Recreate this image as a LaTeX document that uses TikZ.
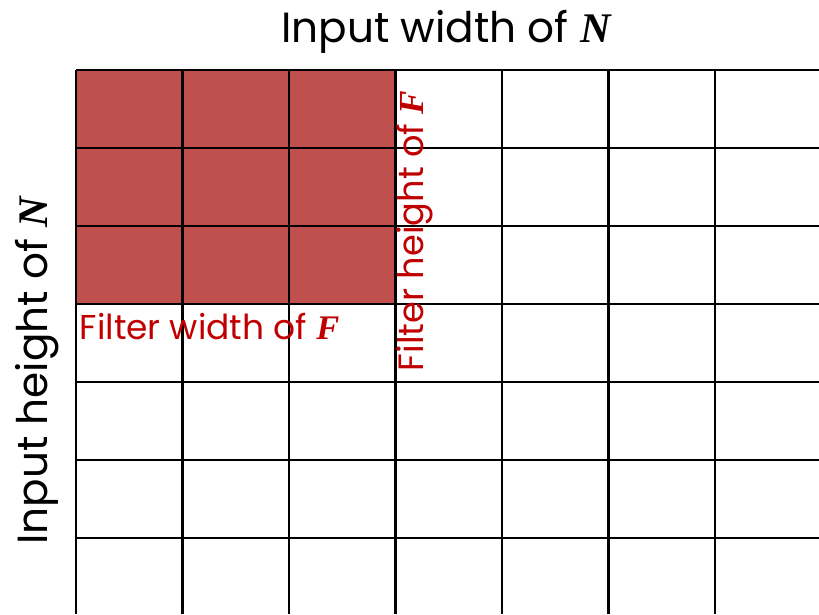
\documentclass[tikz,border=0pt]{standalone}
\usepackage{fontspec}
\setmainfont{Poppins}
\newfontfamily\varfont{Liberation Serif}
\newcommand{\varsym}[1]{{\varfont\bfseries\itshape #1}}
\usetikzlibrary{positioning}

\begin{document}
\begin{tikzpicture}
  % colors
  \definecolor{cellred}{RGB}{192,80,77}
  \definecolor{labelred}{RGB}{192,0,0}

  % parameters
  \def\xo{0.76}   % left edge of the grid
  \def\yo{5.44}   % top edge of the grid
  \def\cw{1.065}  % cell width
  \def\ch{0.78}   % cell height

  \useasboundingbox (0,0) rectangle (8.19,6.14);

  % filter window
  \fill[cellred] (\xo,\yo) rectangle (\xo+3*\cw,\yo-3*\ch);

  % grid
  \foreach \i in {0,...,6} {
    \draw[line width=0.8pt] (\xo+\i*\cw,\yo) -- (\xo+\i*\cw,0);
    \draw[line width=0.8pt] (\xo,\yo-\i*\ch) -- (8.19,\yo-\i*\ch);
  }

  % labels
  \node[font=\fontsize{12}{14}\selectfont] (inw) at (4.46,5.82) {Input width of \varsym{N}};
  \node[font=\fontsize{12}{14}\selectfont, rotate=90] (inh) at (0.37,2.43) {Input height of \varsym{N}};
  \node[font=\fontsize{9.8}{12}\selectfont, text=labelred, anchor=west, inner sep=0pt] (fw) at (0.79,2.88) {Filter width of \varsym{F}};
  \node[font=\fontsize{10}{12}\selectfont, text=labelred, rotate=90] (fh) at (4.15,3.83) {Filter height of \varsym{F}};
\end{tikzpicture}
\end{document}
